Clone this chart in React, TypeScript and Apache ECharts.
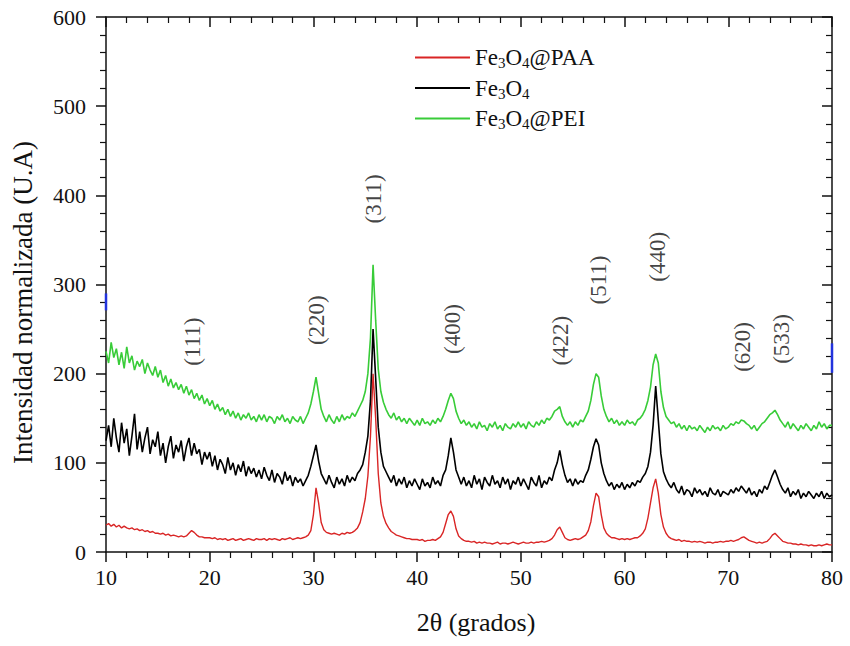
import React, { useEffect, useRef } from "react";
import * as echarts from "echarts";

// 2θ sampling grid: starts at 10°, step 0.25°, 281 samples up to 80°
const X_START = 10;
const X_STEP = 0.25;

const seriesNames = ["Fe3O4@PAA", "Fe3O4", "Fe3O4@PEI"];
const seriesColors = ["#d92525", "#000000", "#38cc38"];

// Fe3O4@PAA (red)
const paaValues = [
  30, 32, 29, 31, 28, 30, 27, 29, 27, 26, 27, 25, 26, 24, 25, 23, 24, 22, 23, 21,
  21, 20, 21, 19, 20, 18, 19, 18, 17, 18, 17, 18, 21, 24, 22, 19, 17, 17, 16, 16,
  16, 15, 16, 14, 15, 14, 15, 13, 14, 15, 13, 14, 15, 13, 14, 15, 14, 13, 15, 14,
  14, 15, 13, 15, 14, 15, 14, 13, 15, 14, 15, 16, 14, 15, 16, 15, 16, 17, 19, 24,
  42, 72, 55, 33, 25, 22, 21, 20, 21, 20, 19, 21, 20, 22, 21, 22, 24, 27, 33, 45,
  60, 85, 130, 200, 150, 88, 55, 40, 32, 27, 23, 21, 19, 18, 17, 16, 15, 15, 14, 14,
  14, 13, 14, 12, 13, 13, 14, 13, 15, 17, 22, 32, 42, 46, 40, 26, 18, 15, 13, 12,
  12, 11, 12, 10, 11, 10, 11, 10, 10, 9, 10, 11, 9, 10, 10, 9, 10, 11, 10, 9,
  10, 11, 10, 10, 11, 10, 11, 11, 12, 11, 12, 13, 15, 19, 25, 28, 22, 16, 14, 13,
  14, 15, 14, 15, 17, 19, 24, 34, 52, 66, 62, 42, 27, 21, 18, 16, 16, 15, 14, 15,
  14, 15, 14, 15, 16, 16, 18, 21, 26, 38, 55, 72, 82, 66, 42, 28, 21, 17, 15, 14,
  13, 14, 12, 13, 12, 12, 11, 12, 11, 12, 11, 10, 11, 11, 10, 11, 11, 12, 11, 12,
  12, 13, 12, 13, 14, 16, 17, 15, 13, 12, 11, 10, 11, 10, 11, 12, 15, 19, 21, 18,
  15, 12, 11, 10, 10, 9, 9, 8, 9, 8, 8, 7, 8, 7, 7, 8, 7, 8, 9, 8,
  8,
];

// Fe3O4 (black)
const fe3o4Values = [
  125, 142, 118, 150, 128, 112, 145, 122, 138, 108, 130, 155, 115, 135, 112, 128, 140, 110, 126, 118,
  135, 108, 122, 100, 118, 130, 105, 120, 112, 125, 102, 118, 128, 108, 122, 110, 115, 98, 112, 104,
  112, 96, 108, 92, 104, 98, 88, 106, 92, 100, 86, 98, 90, 102, 85, 96, 88, 94, 84, 92,
  82, 95, 86, 80, 92, 78, 88, 84, 76, 90, 80, 86, 74, 84, 78, 82, 74, 80, 86, 96,
  108, 120, 102, 88, 82, 76, 86, 78, 72, 84, 76, 82, 74, 86, 78, 84, 80, 88, 92, 98,
  112, 130, 170, 250, 195, 140, 112, 96, 90, 84, 78, 86, 74, 82, 76, 84, 72, 80, 74, 82,
  76, 70, 82, 74, 78, 72, 84, 76, 80, 74, 86, 92, 108, 128, 112, 92, 84, 76, 84, 74,
  80, 72, 86, 76, 82, 70, 84, 78, 74, 86, 76, 80, 72, 84, 76, 82, 70, 80, 76, 84,
  74, 82, 76, 70, 84, 78, 74, 86, 72, 80, 76, 84, 80, 92, 100, 114, 98, 86, 78, 82,
  74, 82, 76, 80, 78, 86, 92, 104, 118, 127, 120, 100, 88, 80, 74, 78, 70, 76, 72, 78,
  70, 76, 72, 78, 74, 80, 78, 84, 88, 96, 112, 142, 186, 148, 110, 90, 82, 76, 72, 78,
  70, 66, 74, 64, 70, 68, 62, 72, 66, 70, 64, 68, 62, 72, 66, 64, 70, 62, 68, 66,
  64, 70, 66, 72, 68, 74, 70, 66, 72, 64, 68, 62, 70, 66, 74, 70, 78, 86, 92, 84,
  76, 70, 66, 72, 62, 68, 64, 70, 60, 66, 62, 68, 64, 60, 66, 62, 68, 60, 66, 62,
  64,
];

// Fe3O4@PEI (green)
const peiValues = [
  225, 212, 235, 218, 228, 210, 224, 206, 230, 212, 220, 204, 214, 208, 216, 200, 212, 204, 198, 208,
  196, 204, 190, 198, 186, 194, 184, 190, 182, 188, 178, 186, 176, 182, 172, 178, 170, 176, 166, 172,
  164, 170, 160, 166, 158, 162, 154, 160, 152, 158, 150, 156, 148, 154, 150, 156, 148, 152, 146, 154,
  148, 154, 146, 152, 150, 144, 152, 148, 154, 146, 150, 144, 152, 148, 146, 152, 144, 150, 156, 166,
  180, 196, 178, 160, 152, 146, 154, 148, 144, 152, 146, 154, 148, 152, 150, 156, 152, 158, 164, 170,
  180, 200, 240, 322, 260, 205, 180, 168, 160, 154, 150, 156, 148, 152, 146, 150, 144, 150, 146, 142,
  148, 142, 150, 144, 146, 142, 148, 144, 150, 146, 152, 160, 170, 178, 172, 158, 150, 144, 148, 142,
  146, 140, 144, 138, 146, 140, 142, 136, 144, 140, 146, 138, 142, 136, 144, 140, 138, 144, 140, 146,
  140, 144, 138, 146, 142, 140, 146, 142, 148, 144, 150, 148, 152, 158, 160, 163, 152, 146, 142, 146,
  140, 146, 142, 148, 146, 152, 158, 170, 188, 200, 196, 175, 160, 152, 146, 150, 144, 148, 142, 146,
  142, 148, 144, 146, 142, 148, 150, 154, 160, 170, 185, 210, 222, 212, 180, 162, 152, 148, 144, 146,
  140, 144, 138, 142, 136, 142, 138, 140, 136, 142, 138, 134, 140, 136, 142, 138, 140, 136, 142, 138,
  140, 144, 142, 146, 144, 148, 147, 144, 142, 138, 142, 136, 140, 144, 146, 150, 154, 156, 159, 154,
  148, 144, 140, 146, 138, 144, 140, 136, 142, 138, 144, 140, 136, 142, 138, 146, 140, 144, 138, 142,
  142,
];

// Small blue fragments visible on the left and right frame lines
const blueLeft = [[10, 271], [10, 290]];
const blueRight = [[80, 201], [80, 234]];

// Miller index annotations (label centre in data coordinates)
const peakLabels = ["(111)", "(220)", "(311)", "(400)", "(422)", "(511)", "(440)", "(620)", "(533)"];
const peakX = [18.3, 30.25, 35.75, 43.45, 53.8, 57.45, 63.2, 71.4, 75.1];
const peakY = [236, 260, 396, 250, 237, 305, 331, 230, 239];

const FONT = "'Liberation Serif', 'Times New Roman', serif";

function toPairs(values: number[]) {
  return values.map((v, i) => [X_START + i * X_STEP, v]);
}

function legendRich(name: string) {
  // Fe3O4@XXX -> Fe{sub 3}O{sub 4}@XXX
  const parts = name.split(/(\d)/).filter((p) => p.length > 0);
  return parts.map((p) => (/^\d$/.test(p) ? `{s|${p}}` : `{n|${p}}`)).join("");
}

export default function App() {
  const ref = useRef<HTMLDivElement>(null);

  useEffect(() => {
    if (!ref.current) return;
    const chart = echarts.init(ref.current, undefined, { renderer: "svg" });
    const allValues = [paaValues, fe3o4Values, peiValues];

    const axisLineStyle = { color: "#111", width: 1.5 };
    const baseX = {
      type: "value" as const,
      min: 10,
      max: 80,
      interval: 10,
      splitLine: { show: false },
      axisLine: { show: true, onZero: false, lineStyle: axisLineStyle },
      minorTick: { show: true, splitNumber: 5, length: 6, lineStyle: { color: "#111", width: 1.2 } },
    };
    const baseY = {
      type: "value" as const,
      min: 0,
      max: 600,
      interval: 100,
      splitLine: { show: false },
      axisLine: { show: true, onZero: false, lineStyle: axisLineStyle },
      minorTick: { show: true, splitNumber: 5, length: 6, lineStyle: { color: "#111", width: 1.2 } },
    };

    chart.setOption({
      animation: false,
      backgroundColor: "#ffffff",
      grid: { left: 106, right: 18, top: 17, bottom: 94 },
      legend: {
        data: seriesNames,
        orient: "vertical",
        left: 410,
        top: 41,
        itemWidth: 55,
        itemHeight: 2,
        itemGap: 6,
        icon: "rect",
        formatter: (name: string) => legendRich(name),
        textStyle: {
          color: "#111",
          fontFamily: FONT,
          fontSize: 23,
          rich: {
            n: { fontFamily: FONT, fontSize: 23, lineHeight: 26, color: "#111", verticalAlign: "middle" },
            s: { fontFamily: FONT, fontSize: 15, lineHeight: 12, color: "#111", verticalAlign: "bottom" },
          },
        },
      },
      xAxis: [
        {
          ...baseX,
          position: "bottom",
          axisTick: { show: true, inside: false, length: 10, lineStyle: { color: "#111", width: 1.5 } },
          axisLabel: { show: true, margin: 14, fontSize: 22, fontFamily: FONT, color: "#111" },
          name: "2θ (grados)",
          nameLocation: "middle",
          nameGap: 57,
          nameTextStyle: { fontSize: 26, fontFamily: FONT, color: "#111", padding: [0, 0, 0, 14] },
        },
        {
          ...baseX,
          position: "top",
          axisTick: { show: true, inside: true, length: 10, lineStyle: { color: "#111", width: 1.5 } },
          axisLabel: { show: false },
        },
      ],
      yAxis: [
        {
          ...baseY,
          position: "left",
          axisTick: { show: true, inside: false, length: 10, lineStyle: { color: "#111", width: 1.5 } },
          axisLabel: { show: true, margin: 20, fontSize: 22, fontFamily: FONT, color: "#111" },
          name: "Intensidad normalizada (U.A)",
          nameLocation: "middle",
          nameRotate: 90,
          nameGap: 70,
          nameTextStyle: { fontSize: 27, fontFamily: FONT, color: "#111", padding: [0, 36, 0, 0] },
        },
        {
          ...baseY,
          position: "right",
          axisTick: { show: true, inside: true, length: 10, lineStyle: { color: "#111", width: 1.5 } },
          axisLabel: { show: false },
        },
      ],
      series: [
        ...seriesNames.map((name, i) => ({
          name,
          type: "line" as const,
          xAxisIndex: 0,
          yAxisIndex: 0,
          data: toPairs(allValues[i]),
          showSymbol: false,
          symbol: "none",
          color: seriesColors[i],
          lineStyle: { color: seriesColors[i], width: i === 0 ? 1.4 : 1.6 },
          silent: true,
          z: 3 + i,
        })),
        ...[blueLeft, blueRight].map((seg) => ({
          name: "frame",
          type: "line" as const,
          data: seg,
          showSymbol: false,
          symbol: "none",
          lineStyle: { color: "#2233dd", width: 2.5 },
          silent: true,
          z: 8,
        })),
        {
          name: "labels",
          type: "scatter" as const,
          xAxisIndex: 0,
          yAxisIndex: 0,
          symbolSize: 2,
          itemStyle: { color: "rgba(0,0,0,0)" },
          silent: true,
          data: peakX.map((x, i) => [x, peakY[i], peakLabels[i]]),
          label: {
            show: true,
            position: "inside",
            rotate: 90,
            formatter: (p: any) => p.data[2],
            fontSize: 23,
            fontFamily: FONT,
            color: "#111",
          },
          labelLayout: { hideOverlap: false },
          z: 10,
        },
      ],
    });

    return () => chart.dispose();
  }, []);

  return (
    <div
      ref={ref}
      style={{ position: "fixed", left: 0, top: 0, width: 850, height: 646, background: "#fff" }}
    />
  );
}
